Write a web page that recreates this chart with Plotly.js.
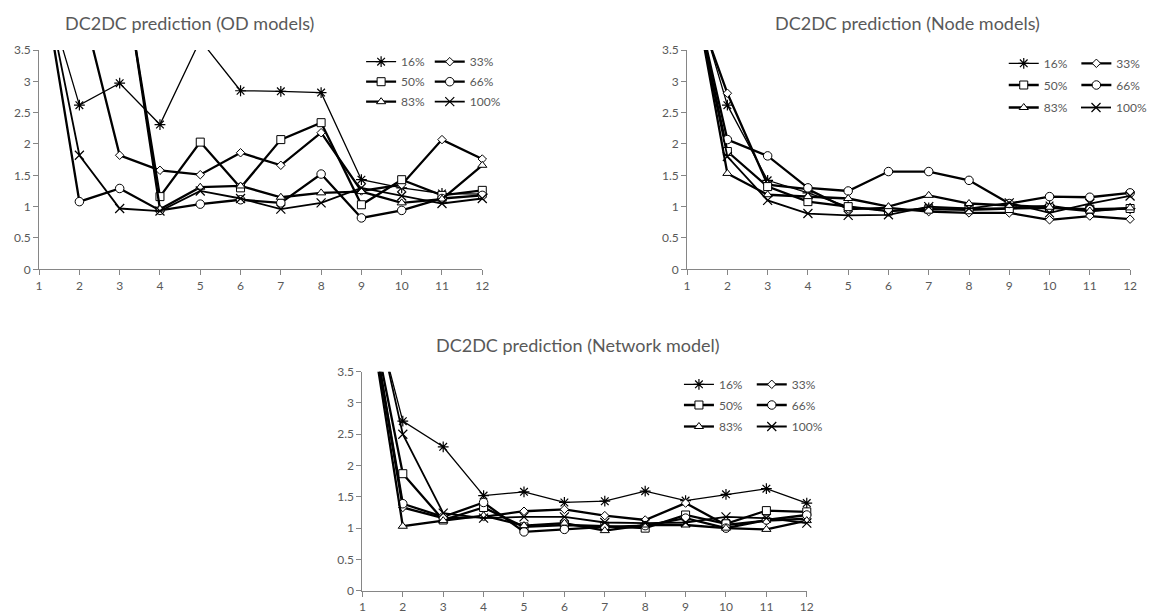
<!DOCTYPE html>
<html>
<head>
<meta charset="utf-8">
<script src="https://cdn.plot.ly/plotly-3.0.1.min.js"></script>
<style>
  html, body { margin: 0; padding: 0; background: #ffffff; }
  #chart { width: 1152px; height: 614px; }
</style>
</head>
<body>
<div id="chart"></div>
<script>
// Forecast horizon steps and series labels
const xSteps = [1, 2, 3, 4, 5, 6, 7, 8, 9, 10, 11, 12];
const xLabels = ['1', '2', '3', '4', '5', '6', '7', '8', '9', '10', '11', '12'];
const seriesNames = ['16%', '33%', '50%', '66%', '83%', '100%'];
const yTicks = [0, 0.5, 1, 1.5, 2, 2.5, 3, 3.5];

// OD models
const od16  = [4.8, 2.62, 2.97, 2.31, 3.66, 2.85, 2.84, 2.82, 1.43, 1.30, 1.21, 1.20];
const od33  = [5.6, 4.39, 1.82, 1.58, 1.51, 1.86, 1.66, 2.18, 1.25, 1.35, 2.07, 1.76];
const od50  = [6.4, 6.0, 5.1, 1.16, 2.03, 1.30, 2.07, 2.34, 1.03, 1.43, 1.18, 1.26];
const od66  = [5.0, 1.08, 1.29, 0.94, 1.04, 1.11, 1.06, 1.52, 0.82, 0.94, 1.13, 1.18];
const od83  = [6.8, 6.2, 5.2, 0.96, 1.31, 1.33, 1.15, 1.22, 1.24, 1.06, 1.12, 1.66];
const od100 = [5.0, 1.82, 0.97, 0.93, 1.25, 1.13, 0.96, 1.06, 1.30, 1.17, 1.05, 1.13];

// Node models
const nd16  = [4.8, 2.62, 1.42, 1.22, 1.00, 0.93, 0.98, 0.97, 0.98, 1.02, 0.93, 0.97];
const nd33  = [4.6, 2.81, 1.35, 1.28, 0.96, 0.98, 0.92, 0.90, 0.90, 0.79, 0.85, 0.80];
const nd50  = [4.9, 1.88, 1.32, 1.08, 1.00, 0.93, 0.96, 0.95, 0.97, 0.98, 0.96, 0.97];
const nd66  = [4.9, 2.07, 1.81, 1.30, 1.25, 1.56, 1.56, 1.42, 1.05, 1.16, 1.15, 1.22];
const nd83  = [5.05, 1.53, 1.19, 1.16, 1.13, 1.00, 1.18, 1.05, 1.02, 0.99, 0.93, 0.98];
const nd100 = [4.9, 1.80, 1.10, 0.89, 0.86, 0.87, 1.00, 0.97, 1.06, 0.90, 1.05, 1.17];

// Network model
const nw16  = [5.2, 2.71, 2.30, 1.52, 1.58, 1.41, 1.43, 1.59, 1.44, 1.54, 1.63, 1.40];
const nw33  = [5.2, 1.33, 1.16, 1.18, 1.27, 1.30, 1.20, 1.13, 1.40, 1.05, 1.12, 1.15];
const nw50  = [5.1, 1.87, 1.13, 1.33, 1.02, 1.05, 1.03, 1.00, 1.21, 1.07, 1.28, 1.26];
const nw66  = [5.2, 1.39, 1.18, 1.41, 0.94, 0.98, 1.02, 1.04, 1.16, 1.00, 1.13, 1.21];
const nw83  = [5.15, 1.03, 1.12, 1.20, 1.04, 1.08, 0.96, 1.05, 1.05, 1.00, 0.98, 1.12];
const nw100 = [5.4, 2.50, 1.24, 1.16, 1.18, 1.18, 1.09, 1.08, 1.09, 1.18, 1.16, 1.08];

const W = 1152, H = 614;
const FONT = 'Lato, "Open Sans", sans-serif';
const AXIS_GREY = '#868686';
const TEXT_GREY = '#595959';

// Marker / line style per series (same order as seriesNames)
const symbols     = ['asterisk-open', 'diamond', 'square', 'circle', 'triangle-up', 'x-thin-open'];
const markerSizes = [9, 6.5, 8, 8.5, 8, 9];
const lineWidths  = [1.3, 2.3, 2.3, 2.3, 2.3, 1.8];

// Panel placement in pixels: plot box, title centre, legend grid (line start x, row centre y)
const panels = [
  { title: 'DC2DC prediction (OD models)', series: [od16, od33, od50, od66, od83, od100],
    box: { l: 39.3, r: 484.8, t: 50, b: 269.3 }, titleAt: [190, 23],
    legCols: [368, 437], legRows: [61.7, 81.7, 101.7] },
  { title: 'DC2DC prediction (Node models)', series: [nd16, nd33, nd50, nd66, nd83, nd100],
    box: { l: 690.7, r: 1136, t: 50, b: 269.3 }, titleAt: [912, 23],
    legCols: [1014, 1087], legRows: [63.3, 85, 107.5] },
  { title: 'DC2DC prediction (Network model)', series: [nw16, nw33, nw50, nw66, nw83, nw100],
    box: { l: 364.3, r: 811, t: 371.7, b: 590.7 }, titleAt: [581, 345],
    legCols: [687.5, 760.7], legRows: [384.3, 405, 426.5] }
];

const traces = [];
const layout = {
  width: W, height: H,
  margin: { l: 0, r: 0, t: 0, b: 0 },
  paper_bgcolor: '#ffffff', plot_bgcolor: '#ffffff',
  font: { family: FONT, color: TEXT_GREY, size: 12 },
  showlegend: true,
  annotations: [],
  hovermode: false
};

let legendIndex = 0;
panels.forEach((p, i) => {
  const n = i === 0 ? '' : String(i + 1);
  const xa = 'x' + n, ya = 'y' + n;

  layout['xaxis' + n] = {
    domain: [p.box.l / W, p.box.r / W],
    anchor: ya, range: [1, 12],
    tickmode: 'array', tickvals: xSteps, ticktext: xLabels,
    showline: true, linecolor: AXIS_GREY, linewidth: 1,
    ticks: 'outside', ticklen: 5, tickcolor: AXIS_GREY, tickwidth: 1,
    showgrid: false, zeroline: false, fixedrange: true,
    tickfont: { family: FONT, size: 12, color: TEXT_GREY }
  };
  layout['yaxis' + n] = {
    domain: [1 - p.box.b / H, 1 - p.box.t / H],
    anchor: xa, range: [0, 3.5],
    tickmode: 'array', tickvals: yTicks,
    showline: true, linecolor: AXIS_GREY, linewidth: 1,
    ticks: 'outside', ticklen: 5, tickcolor: AXIS_GREY, tickwidth: 1,
    showgrid: false, zeroline: false, fixedrange: true,
    tickfont: { family: FONT, size: 12, color: TEXT_GREY }
  };

  layout.annotations.push({
    xref: 'paper', yref: 'paper',
    x: p.titleAt[0] / W, y: 1 - p.titleAt[1] / H,
    xanchor: 'center', yanchor: 'middle', showarrow: false,
    text: p.title, font: { family: FONT, size: 18, color: TEXT_GREY }
  });

  p.series.forEach((vals, j) => {
    legendIndex += 1;
    const legKey = legendIndex === 1 ? 'legend' : 'legend' + legendIndex;
    const lineOnly = symbols[j].endsWith('-open');
    traces.push({
      type: 'scatter', mode: 'lines+markers',
      x: xSteps, y: vals, xaxis: xa, yaxis: ya,
      name: seriesNames[j], legend: legKey, showlegend: true,
      cliponaxis: false,
      line: { color: '#000000', width: lineWidths[j] },
      marker: {
        symbol: symbols[j], size: markerSizes[j],
        color: lineOnly ? '#000000' : '#ffffff',
        line: { color: '#000000', width: lineOnly ? 1.2 : 1 }
      }
    });
    const colX = p.legCols[j % 2];
    const rowY = p.legRows[Math.floor(j / 2)];
    layout[legKey] = {
      visible: true,
      xref: 'paper', yref: 'paper',
      x: (colX - 5) / W, y: 1 - (rowY - 14.5) / H,
      xanchor: 'left', yanchor: 'top',
      bgcolor: 'rgba(0,0,0,0)', borderwidth: 0,
      font: { family: FONT, size: 12, color: TEXT_GREY },
      itemclick: false, itemdoubleclick: false
    };
  });
});

Plotly.newPlot('chart', traces, layout, { displayModeBar: false, staticPlot: true });
</script>
</body>
</html>
